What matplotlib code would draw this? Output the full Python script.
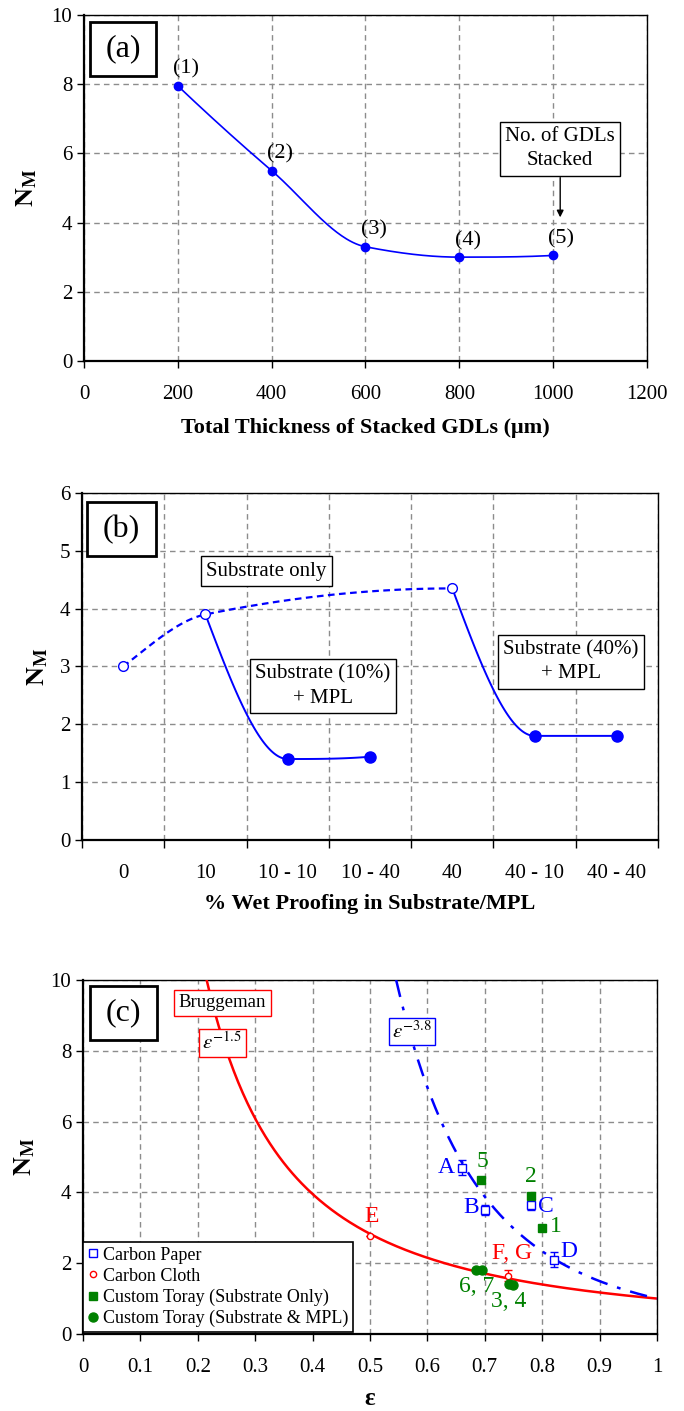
import numpy as np
import matplotlib
matplotlib.use('Agg')
import matplotlib.pyplot as plt
from matplotlib.patches import Rectangle

plt.rcParams['font.family'] = ['Liberation Serif', 'DejaVu Serif']
plt.rcParams['mathtext.fontset'] = 'stix'

# (a) stacked GDLs
thickness = [200, 400, 600, 800, 1000]
nm_stacked = [7.95, 5.5, 3.3, 3.0, 3.05]
stack_labels = ['(1)', '(2)', '(3)', '(4)', '(5)']

# (b) wet proofing
wp_categories = ['0', '10', '10 - 10', '10 - 40', '40', '40 - 10', '40 - 40']
sub_only_idx = [0, 1, 4]
sub_only_nm = [3.0, 3.9, 4.35]
mpl10_idx = [1, 2, 3]
mpl10_nm = [3.9, 1.4, 1.44]
mpl40_idx = [4, 5, 6]
mpl40_nm = [4.35, 1.8, 1.8]

# (c) porosity
paper_eps = [0.66, 0.70, 0.78, 0.82]
paper_nm = [4.7, 3.5, 3.65, 2.1]
paper_err = [0.2, 0.15, 0.15, 0.22]
paper_labels = ['A', 'B', 'C', 'D']
cloth_eps = [0.50, 0.74]
cloth_nm = [2.78, 1.65]
cloth_err = [0.0, 0.15]
cloth_labels = ['E', 'F, G']
toray_sub_eps = [0.80, 0.78, 0.693]
toray_sub_nm = [3.0, 3.9, 4.35]
toray_sub_labels = ['1', '2', '5']
toray_mpl_eps = [0.742, 0.75, 0.685, 0.695]
toray_mpl_nm = [1.42, 1.38, 1.8, 1.8]
toray_mpl_labels = ['3, 4', '6, 7']
bruggeman_exp = -1.5
fit_exp = -3.8

BLUE = '#0000FF'
RED = '#FF0000'
GREEN = '#008000'
TICK_FS = 15
TEXT_FS = 15


def smooth(xs, ys, n=60):
    # monotone cubic through the points, close to excel's smoothed line
    x = np.asarray(xs, float)
    y = np.asarray(ys, float)
    h = np.diff(x)
    d = np.diff(y) / h
    m = np.zeros_like(y)
    for k in range(1, len(x) - 1):
        if d[k - 1] * d[k] > 0:
            w1 = 2 * h[k] + h[k - 1]
            w2 = h[k] + 2 * h[k - 1]
            m[k] = (w1 + w2) / (w1 / d[k - 1] + w2 / d[k])

    def end(h0, h1, d0, d1):
        s = ((2 * h0 + h1) * d0 - h0 * d1) / (h0 + h1)
        if np.sign(s) != np.sign(d0):
            return 0.0
        if np.sign(d0) != np.sign(d1) and abs(s) > 3 * abs(d0):
            return 3 * d0
        return s

    m[0] = end(h[0], h[1], d[0], d[1])
    m[-1] = end(h[-1], h[-2], d[-1], d[-2])
    px, py = [], []
    t = np.linspace(0, 1, n)
    for k in range(len(x) - 1):
        h00 = 2 * t ** 3 - 3 * t ** 2 + 1
        h10 = t ** 3 - 2 * t ** 2 + t
        h01 = -2 * t ** 3 + 3 * t ** 2
        h11 = t ** 3 - t ** 2
        px.append(x[k] + t * h[k])
        py.append(h00 * y[k] + h10 * h[k] * m[k] + h01 * y[k + 1]
                  + h11 * h[k] * m[k + 1])
    return np.concatenate(px), np.concatenate(py)


def style_axes(ax):
    ax.grid(True, color='#8c8c8c', linestyle=(0, (4, 3)), lw=1)
    ax.set_axisbelow(True)
    for s in ['left', 'bottom']:
        ax.spines[s].set_linewidth(1.6)
    for s in ['top', 'right']:
        ax.spines[s].set_linewidth(1.0)
    ax.tick_params(axis='both', labelsize=TICK_FS, direction='out', length=5,
                   width=1)
    ax.tick_params(axis='x', pad=12)


def letter_box(ax, text, x0, y0, x1, y1):
    ax.add_patch(Rectangle((x0, y0), x1 - x0, y1 - y0, transform=ax.transAxes,
                           facecolor='white', edgecolor='black', lw=2, zorder=5))
    ax.text((x0 + x1) / 2, (y0 + y1) / 2, text, transform=ax.transAxes,
            ha='center', va='center', fontsize=23, zorder=6)


def ylabel(ax, x):
    ax.set_ylabel(r'$\mathbf{N_M}$', fontsize=19)
    ax.yaxis.set_label_coords(x, 0.5)


def main():
    fig = plt.figure(figsize=(6.84, 14.11), dpi=100)

    # ---- (a)
    ax = fig.add_axes([0.1228, 0.7442, 0.8231, 0.2452])
    style_axes(ax)
    sx, sy = smooth(thickness, nm_stacked)
    ax.plot(sx, sy, color=BLUE, lw=1.2, zorder=3)
    ax.plot(thickness, nm_stacked, 'o', color=BLUE, ms=6, zorder=4)
    for x, y, lab in zip(thickness, nm_stacked, stack_labels):
        ax.annotate(lab, (x, y), xytext=(6, 12), textcoords='offset points',
                    ha='center', va='center', fontsize=16)
    ax.set_xlim(0, 1200)
    ax.set_ylim(0, 10)
    ax.set_xticks(np.arange(0, 1201, 200))
    ax.set_yticks(np.arange(0, 11, 2))
    ax.set_xlabel('Total Thickness of Stacked GDLs (\u03bcm)', fontsize=16,
                  fontweight='bold')
    ax.xaxis.set_label_coords(0.5, -0.165)
    ylabel(ax, -0.08)
    letter_box(ax, '(a)', 0.011, 0.824, 0.128, 0.98)
    ax.annotate('', xy=(1015, 4.07), xytext=(1015, 5.38),
                arrowprops=dict(arrowstyle='-|>', color='black', lw=1,
                                mutation_scale=10))
    ax.text(1015, 6.13, 'No. of GDLs\nStacked', ha='center', va='center',
            fontsize=TEXT_FS, linespacing=1.35,
            bbox=dict(boxstyle='square,pad=0.25', fc='white', ec='black', lw=1))

    # ---- (b)
    ax = fig.add_axes([0.1199, 0.4047, 0.8421, 0.2459])
    style_axes(ax)
    cx = np.arange(len(wp_categories)) + 0.5
    sx, sy = smooth(cx[sub_only_idx], sub_only_nm)
    ax.plot(sx, sy, color=BLUE, lw=1.6, ls=(0, (3, 2)), zorder=3)
    for idx, vals in [(mpl10_idx, mpl10_nm), (mpl40_idx, mpl40_nm)]:
        sx, sy = smooth(cx[idx], vals)
        ax.plot(sx, sy, color=BLUE, lw=1.4, zorder=3)
        ax.plot(cx[idx[1:]], vals[1:], 'o', color=BLUE, ms=8, zorder=4)
    ax.plot(cx[sub_only_idx], sub_only_nm, 'o', mfc='white', mec=BLUE,
            mew=1, ms=7, zorder=5)
    ax.set_xlim(0, len(wp_categories))
    ax.set_ylim(0, 6)
    ax.set_xticks(np.arange(0, len(wp_categories) + 1))
    ax.set_xticklabels([])
    ax.set_xticks(cx, minor=True)
    ax.set_xticklabels(wp_categories, minor=True)
    ax.tick_params(axis='x', which='major', length=6)
    ax.tick_params(axis='x', which='minor', length=0, pad=17,
                   labelsize=TICK_FS)
    ax.set_yticks(np.arange(0, 7, 1))
    ax.set_xlabel('% Wet Proofing in Substrate/MPL', fontsize=16,
                  fontweight='bold')
    ax.xaxis.set_label_coords(0.5, -0.155)
    ylabel(ax, -0.056)
    letter_box(ax, '(b)', 0.009, 0.818, 0.128, 0.974)
    box = dict(boxstyle='square,pad=0.25', fc='white', ec='black', lw=1)
    ax.text(2.24, 4.65, 'Substrate only', ha='center', va='center',
            fontsize=TEXT_FS, bbox=box, zorder=6)
    ax.text(2.93, 2.66, 'Substrate (10%)\n+ MPL', ha='center', va='center',
            fontsize=TEXT_FS, linespacing=1.35, bbox=box, zorder=6)
    ax.text(5.94, 3.08, 'Substrate (40%)\n+ MPL', ha='center', va='center',
            fontsize=TEXT_FS, linespacing=1.35, bbox=box, zorder=6)

    # ---- (c)
    ax = fig.add_axes([0.1213, 0.0546, 0.8392, 0.2509])
    style_axes(ax)
    e1 = np.linspace(10 ** (1 / bruggeman_exp), 1, 300)
    ax.plot(e1, e1 ** bruggeman_exp, color=RED, lw=1.8, zorder=3)
    e2 = np.linspace(10 ** (1 / fit_exp), 1, 300)
    ax.plot(e2, e2 ** fit_exp, color=BLUE, lw=1.8, ls=(0, (7, 4, 1.5, 4)),
            zorder=3)

    ax.errorbar(paper_eps, paper_nm, yerr=paper_err, fmt='none', ecolor=BLUE,
                elinewidth=1, capsize=3, zorder=4)
    ax.errorbar(cloth_eps, cloth_nm, yerr=cloth_err, fmt='none', ecolor=RED,
                elinewidth=1, capsize=3, zorder=4)
    ax.plot(paper_eps, paper_nm, 's', mfc='white', mec=BLUE, mew=1, ms=5.5,
            zorder=5, label='Carbon Paper')
    ax.plot(cloth_eps, cloth_nm, 'o', mfc='white', mec=RED, mew=1, ms=4.5,
            zorder=5, label='Carbon Cloth')
    ax.plot(toray_sub_eps, toray_sub_nm, 's', color=GREEN, ms=6, zorder=5,
            label='Custom Toray (Substrate Only)')
    ax.plot(toray_mpl_eps, toray_mpl_nm, 'o', color=GREEN, ms=6.5, zorder=5,
            label='Custom Toray (Substrate & MPL)')

    lab_fs = 17
    paper_off = [(-11, 0), (-10, 2), (11, -1), (11, 6)]
    for x, y, lab, off in zip(paper_eps, paper_nm, paper_labels, paper_off):
        ax.annotate(lab, (x, y), xytext=off, textcoords='offset points',
                    ha='center', va='center', fontsize=lab_fs, color=BLUE)
    cloth_off = [(1, 14), (3, 16)]
    for x, y, lab, off in zip(cloth_eps, cloth_nm, cloth_labels, cloth_off):
        ax.annotate(lab, (x, y), xytext=off, textcoords='offset points',
                    ha='center', va='center', fontsize=lab_fs, color=RED)
    sub_off = [(10, 1), (0, 14), (1, 13)]
    for x, y, lab, off in zip(toray_sub_eps, toray_sub_nm, toray_sub_labels,
                              sub_off):
        ax.annotate(lab, (x, y), xytext=off, textcoords='offset points',
                    ha='center', va='center', fontsize=lab_fs, color=GREEN)
    pair_x = [np.mean(toray_mpl_eps[:2]), np.mean(toray_mpl_eps[2:])]
    pair_y = [np.mean(toray_mpl_nm[:2]), np.mean(toray_mpl_nm[2:])]
    for x, y, lab in zip(pair_x, pair_y, toray_mpl_labels):
        ax.annotate(lab, (x, y), xytext=(-2, -12), textcoords='offset points',
                    ha='center', va='center', fontsize=lab_fs, color=GREEN)

    ax.set_xlim(0, 1)
    ax.set_ylim(0, 10)
    xt = np.round(np.arange(0, 1.01, 0.1), 1)
    ax.set_xticks(xt)
    ax.set_xticklabels(['%g' % v for v in xt])
    ax.set_yticks(np.arange(0, 11, 2))
    ax.set_xlabel('\u03b5', fontsize=18, fontweight='bold', va='baseline')
    ax.xaxis.set_label_coords(0.5, -0.2)
    ylabel(ax, -0.08)
    letter_box(ax, '(c)', 0.012, 0.831, 0.129, 0.983)
    ax.text(0.243, 9.35, 'Bruggeman', ha='center', va='center',
            fontsize=13.5, zorder=6,
            bbox=dict(boxstyle='square,pad=0.25', fc='white', ec=RED, lw=1))
    ax.text(0.243, 8.22, r'$\varepsilon^{-1.5}$', ha='center', va='center',
            fontsize=15, zorder=6,
            bbox=dict(boxstyle='square,pad=0.15', fc='white', ec=RED, lw=1))
    ax.text(0.573, 8.54, r'$\varepsilon^{-3.8}$', ha='center', va='center',
            fontsize=15, zorder=6,
            bbox=dict(boxstyle='square,pad=0.15', fc='white', ec=BLUE, lw=1))

    leg = ax.legend(loc='lower left', bbox_to_anchor=(0.0, 0.006),
                    borderaxespad=0, fontsize=13, handlelength=0.6,
                    handletextpad=0.25, labelspacing=0.22, borderpad=0.25,
                    fancybox=False, framealpha=1, edgecolor='black')
    leg.get_frame().set_linewidth(1.2)
    leg.set_zorder(7)

    fig.savefig('out.png', dpi=100)


if __name__ == "__main__":
    main()
